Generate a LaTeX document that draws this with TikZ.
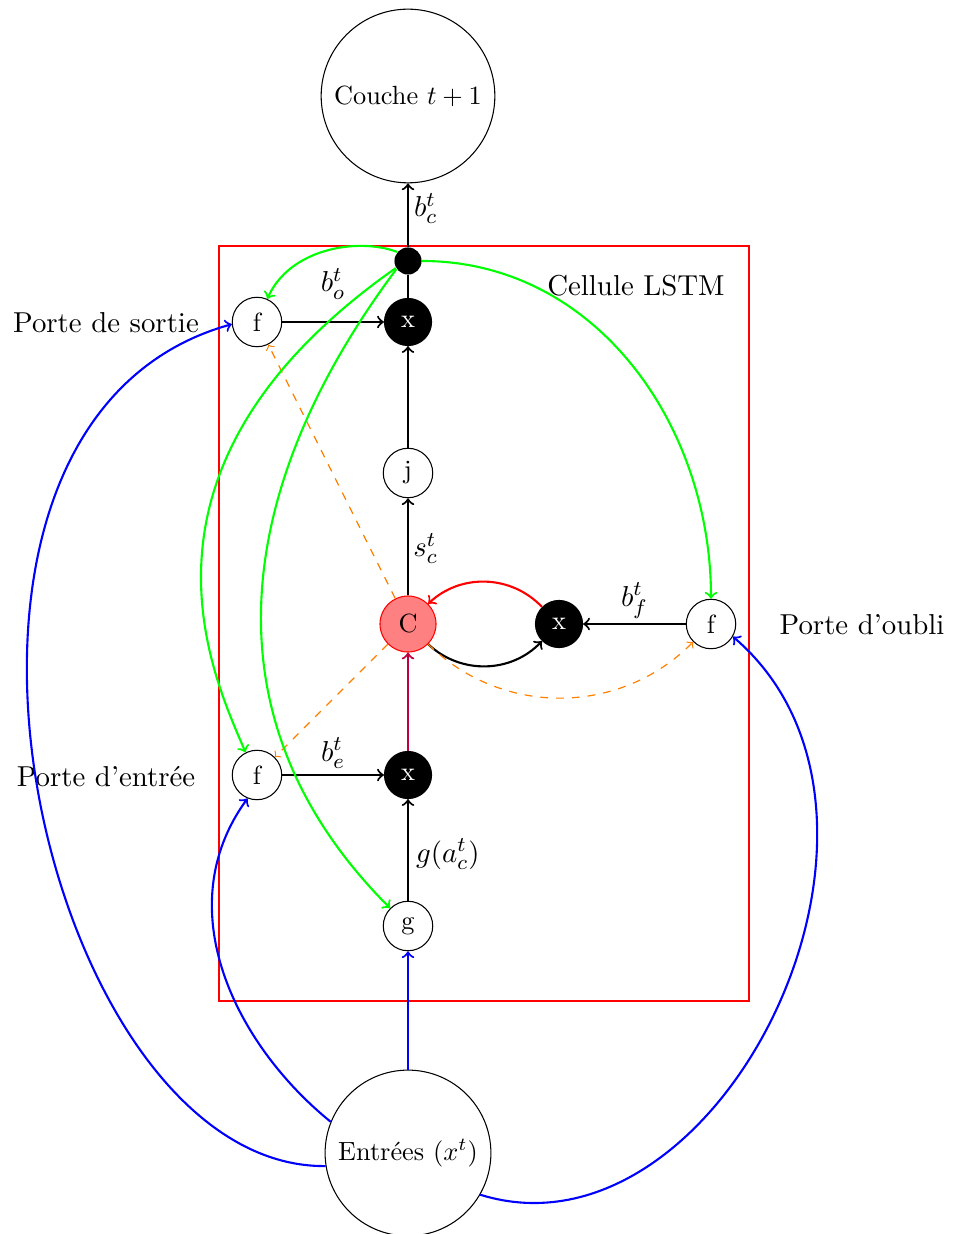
\documentclass[tikz,border=0pt]{standalone}
\begin{document}
\begin{tikzpicture}[x=0.38pt,y=-0.38pt,
  lab/.style={font=\fontsize{10.95}{13.5}\selectfont},
  elab/.style={font=\fontsize{10.95}{13.5}\selectfont,inner sep=0pt},
  circ/.style={circle,draw,line width=0.4pt,inner sep=0pt,font=\fontsize{10}{12}\selectfont},
  gate/.style={circ,minimum size=18.8pt},
  mult/.style={circ,fill=black,text=white,minimum size=17.9pt},
  conn/.style={->,line width=0.8pt},
  grn/.style={->,line width=0.8pt,draw=green},
  blu/.style={->,line width=0.8pt,draw=blue},
  org/.style={->,line width=0.45pt,draw=orange,dashed}
]
\useasboundingbox (0,0) rectangle (955,1234);
\draw[red,line width=0.8pt] (219,246) rectangle (749,1001);

\node[circ,minimum size=66pt] (couche) at (408,96) {Couche $t+1$};
\node[circle,fill=black,inner sep=0pt,minimum size=10.3pt] (dot) at (408,261) {};
\node[mult] (xo) at (408,322) {x};
\node[gate] (fo) at (257,322) {f};
\node[gate] (j) at (408,473) {j};
\node[circ,draw=red,fill=red!50,minimum size=21.3pt] (C) at (408,624) {C};
\node[mult] (xf) at (559,624) {x};
\node[gate] (ff) at (711,624) {f};
\node[gate] (fe) at (257,775) {f};
\node[mult] (xe) at (408,775) {x};
\node[gate] (g) at (408,926) {g};
\node[circ,minimum size=63pt] (in) at (408,1153) {Entrées ($x^t$)};

\node[lab] (cell) at (636,286) {Cellule LSTM};
\node[lab] (ps) at (106,323) {Porte de sortie};
\node[lab] (po) at (862,625) {Porte d'oubli};
\node[lab] (pe) at (106,777) {Porte d'entrée};

% black connectors
\draw[conn] (dot) -- node[elab,anchor=base west,xshift=1.9pt,yshift=-0.6pt] {$b_c^t$} (couche);
\draw[line width=0.8pt] (xo) -- (dot);
\draw[conn] (fo) -- node[elab,anchor=base,yshift=11.4pt] {$b_o^t$} (xo);
\draw[conn] (j) -- (xo);
\draw[conn] (C) -- node[elab,anchor=base west,xshift=1.6pt,yshift=-3.7pt] {$s_c^t$} (j);
\draw[conn] (C) to[bend right=45] (xf);
\draw[conn,draw=red] (xf) to[bend right=45] (C);
\draw[conn] (ff) -- node[elab,anchor=base,yshift=6.7pt] {$b_f^t$} (xf);
\draw[conn,draw=purple] (xe) -- (C);
\draw[conn] (fe) -- node[elab,anchor=base,yshift=5.3pt] {$b_e^t$} (xe);
\draw[conn] (g) -- node[elab,anchor=base west,xshift=2.7pt,yshift=-4.6pt] {$g(a_c^t)$} (xe);

% orange peepholes
\draw[org] (C) -- (fo);
\draw[org] (C) -- (fe);
\draw[org] (C) to[bend right=45] (ff);

% green recurrent connections
\draw[grn] (dot.140) .. controls +(-40,-15) and +(22,-50) .. (fo.66);
\draw[grn] (dot) to[out=0,in=90] (ff);
\draw[grn] (dot.210) .. controls +(-285,200) and +(-32,-76) .. (fe.117);
\draw[grn] (dot.215) .. controls +(-152,203) and +(-198,-198) .. (g.135);

% blue inputs
\draw[blu] (in) -- (g);
\draw[blu] (in.158) .. controls +(-95,-77) and +(-80,110) .. (fe.248);
\draw[blu] (in.189) .. controls +(-285,3) and +(-360,100) .. (fo.185);
\draw[blu] (in.-30) .. controls +(240,75) and +(210,180) .. (ff.-30);
\end{tikzpicture}
\end{document}
